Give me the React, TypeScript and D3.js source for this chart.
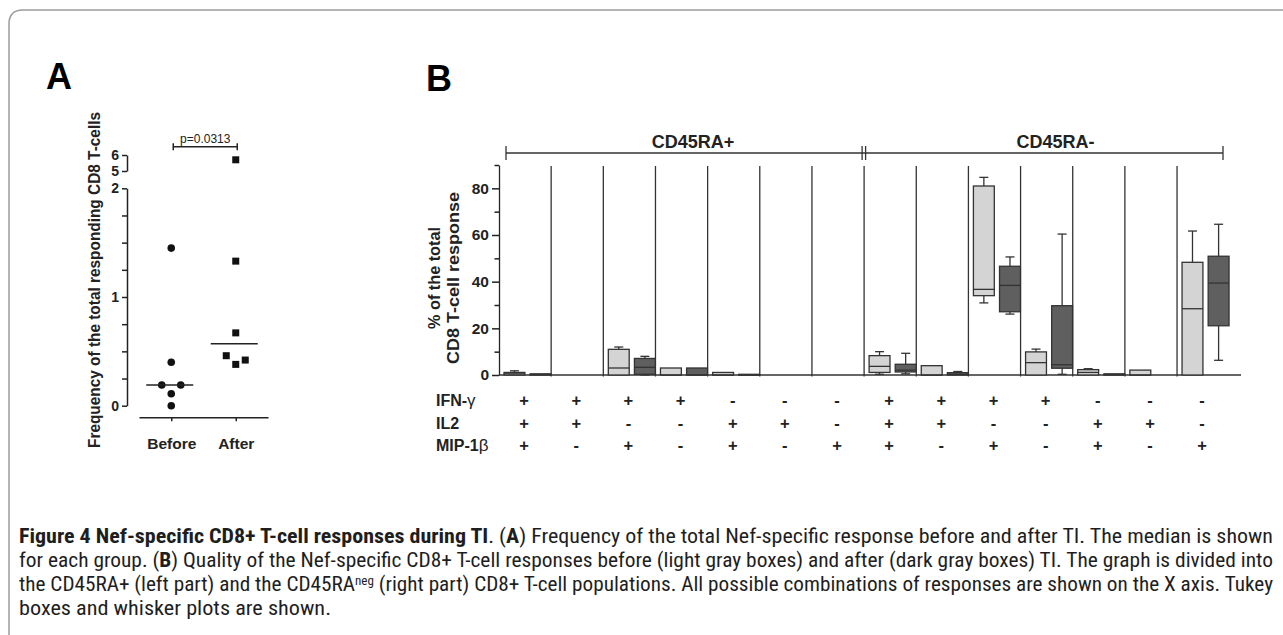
import React, { useRef, useEffect } from 'react';
import * as d3 from 'd3';

const W = 1283;
const H = 635;
const FONT = "'Liberation Sans', Arial, sans-serif";
const CAPTION_FONT = "'Liberation Sans Narrow', 'Roboto Condensed', 'Open Sans', sans-serif";

// ---- panel A: total Nef-specific response ----
const groupsA = ['Before', 'After'];
const beforeValues = [1.45, 0.4, 0.19, 0.19, 0.11, 0];
const beforeSlots = [0, 0, -1, 1, 0, 0];
const afterValues = [5.7, 1.33, 0.67, 0.46, 0.42, 0.38];
const afterSlots = [0, 0, 0, -1, 1, 0];
const mediansA = [0.19, 0.57];
const labelTicksA = [0, 1, 2];
const breakTicksA = [5, 6];
const pLabel = 'p=0.0313';
const titleA = 'Frequency of the total responding CD8 T-cells';

// ---- panel B: response quality ----
const populations = ['CD45RA+', 'CD45RA-'];
const rowLabels = ['IFN-', 'IL2', 'MIP-1'];
const rowGreek = ['γ', '', 'β'];
const ifnRow = ['+', '+', '+', '+', '-', '-', '-', '+', '+', '+', '+', '-', '-', '-'];
const il2Row = ['+', '+', '-', '-', '+', '+', '-', '+', '+', '-', '-', '+', '+', '-'];
const mipRow = ['+', '-', '+', '-', '+', '-', '+', '+', '-', '+', '-', '+', '-', '+'];
// [min, q1, median, q3, max], null = no response
const beforeBoxes = [
  [0, 0, 0.5, 1.1, 1.8], null, [0, 0, 3, 11, 12], [0, 0, 0, 3, 3], [0, 0, 0, 1.1, 1.1], null, null,
  [0.3, 1.1, 3.7, 8.3, 10], [0, 0, 0, 4, 4], [30.9, 34, 36.7, 81, 84.7], [0, 0, 5.3, 9.9, 11.1],
  [0, 0, 1.1, 2.3, 2.7], [0, 0, 0, 2.1, 2.1], [0, 0, 28.4, 48.3, 61.7],
];
const afterBoxes = [
  [0, 0, 0.2, 0.5, 0.5], null, [0, 0.3, 3.3, 7.1, 8], [0, 0, 0, 3, 3], [0, 0, 0, 0.3, 0.3], null, null,
  [0.5, 1.3, 2.1, 4.6, 9.3], [0, 0, 0.3, 1, 1.5], [26.1, 27.1, 38.4, 46.6, 50.6], [0.3, 2.9, 4.4, 29.7, 60.4],
  [0, 0, 0.2, 0.5, 0.5], null, [6.3, 21.1, 39.4, 50.9, 64.6],
];
const labelTicksB = [0, 20, 40, 60, 80];
const titleB = ['% of the total', 'CD8 T-cell response'];

const Figure = () => {
  const svgRef = useRef<SVGSVGElement>(null);

  useEffect(() => {
    const svg = d3.select(svgRef.current);
    svg.selectAll('*').remove();
    svg.attr('width', W).attr('height', H);

    const ink = '#222';

    // frame: top and left rule with rounded corner
    svg.append('path')
      .attr('d', `M9,${H} V24 Q9,10 23,10 H${W}`)
      .attr('fill', 'none')
      .attr('stroke', '#9c9c9c')
      .attr('stroke-width', 1.5);

    // panel letters
    svg.append('text').attr('x', 46).attr('y', 89).attr('font-family', FONT)
      .attr('font-weight', 'bold').attr('font-size', 36).text('A');
    svg.append('text').attr('x', 426).attr('y', 91).attr('font-family', FONT)
      .attr('font-weight', 'bold').attr('font-size', 36).text('B');

    // ================= panel A =================
    const yA = d3.scaleLinear().domain([0, 2]).range([405.7, 188.3]);
    const yAbreak = d3.scaleLinear().domain([5, 6]).range([171, 155]);
    const yOf = (v: number) => (v > 2 ? yAbreak(v) : yA(v));
    const xA = d3.scalePoint<string>().domain(groupsA).range([139, 268]).padding(0.5);
    const slotW = 9.5;

    const styleAxis = (g: any, size: number) => {
      g.selectAll('path, line').attr('stroke', ink).attr('stroke-width', 1.5);
      g.selectAll('text').attr('font-family', FONT).attr('font-weight', 'bold')
        .attr('font-size', size).attr('fill', ink);
    };

    const axA = svg.append('g').attr('transform', 'translate(127,0)')
      .call(d3.axisLeft(yA).tickValues(d3.range(0, 2.001, 0.25)).tickSize(5).tickSizeOuter(0)
        .tickPadding(3)
        .tickFormat((d: any) => (labelTicksA.includes(+d) ? String(d) : '')));
    styleAxis(axA, 14);

    const axA2 = svg.append('g').attr('transform', 'translate(127,0)')
      .call(d3.axisLeft(yAbreak).tickValues(breakTicksA).tickSize(5).tickSizeOuter(0).tickPadding(3)
        .tickFormat((d: any) => String(d)));
    styleAxis(axA2, 14);

    const axAx = svg.append('g').attr('transform', 'translate(0,417.3)')
      .call(d3.axisBottom(xA).tickSize(4).tickSizeOuter(0).tickPadding(17));
    styleAxis(axAx, 15.5);

    // before: circles
    svg.append('g').selectAll('circle').data(beforeValues).join('circle')
      .attr('cx', (d, i) => (xA('Before') as number) + beforeSlots[i] * slotW)
      .attr('cy', d => yOf(d))
      .attr('r', 3.8)
      .attr('fill', '#111');

    // after: squares
    const sq = 7;
    svg.append('g').selectAll('rect').data(afterValues).join('rect')
      .attr('x', (d, i) => (xA('After') as number) + afterSlots[i] * slotW - sq / 2)
      .attr('y', d => yOf(d) - sq / 2)
      .attr('width', sq).attr('height', sq)
      .attr('fill', '#111');

    // medians
    svg.append('g').selectAll('line').data(mediansA).join('line')
      .attr('x1', (d, i) => (xA(groupsA[i]) as number) - 25)
      .attr('x2', (d, i) => (xA(groupsA[i]) as number) + 22)
      .attr('y1', d => yOf(d)).attr('y2', d => yOf(d))
      .attr('stroke', ink).attr('stroke-width', 1.6);

    // significance bracket
    const bx1 = (xA('Before') as number) + 2;
    const bx2 = (xA('After') as number) + 1.5;
    const by = 146.7;
    const sig = svg.append('g').attr('stroke', ink).attr('stroke-width', 1.5);
    sig.append('line').attr('x1', bx1).attr('x2', bx2).attr('y1', by).attr('y2', by);
    sig.append('line').attr('x1', bx1).attr('x2', bx1).attr('y1', by - 3.5).attr('y2', by + 3.5);
    sig.append('line').attr('x1', bx2).attr('x2', bx2).attr('y1', by - 3.5).attr('y2', by + 3.5);
    svg.append('text').attr('x', (bx1 + bx2) / 2).attr('y', 142.5)
      .attr('text-anchor', 'middle').attr('font-family', FONT).attr('font-size', 12)
      .attr('fill', ink).text(pLabel);

    // y title
    svg.append('text')
      .attr('transform', 'translate(100,280) rotate(-90)')
      .attr('text-anchor', 'middle').attr('font-family', FONT).attr('font-weight', 'bold')
      .attr('font-size', 16.5).attr('fill', ink)
      .attr('textLength', 336).attr('lengthAdjust', 'spacingAndGlyphs')
      .text(titleA);

    // ================= panel B =================
    const n = ifnRow.length;
    const xB = d3.scaleBand<number>().domain(d3.range(n)).range([499, 1229.2]);
    const inner = d3.scaleBand<string>().domain(['before', 'after']).range([5, 52]).paddingInner(0.2);
    const yB = d3.scaleLinear().domain([0, 90]).range([375, 165]);
    const bw = xB.bandwidth();

    const axB = svg.append('g').attr('transform', 'translate(499,0)')
      .call(d3.axisLeft(yB).tickValues(d3.range(0, 91, 10)).tickSize(6).tickSizeOuter(0)
        .tickPadding(4)
        .tickFormat((d: any) => (labelTicksB.includes(+d) ? String(d) : '')));
    styleAxis(axB, 15.5);
    axB.selectAll('.tick line').attr('x2', (d: any) => (labelTicksB.includes(+d) ? -7 : -4.5));
    axB.selectAll('path').attr('stroke-width', 1.3);

    const grid = svg.append('g').attr('stroke', '#333').attr('stroke-width', 1.3);
    // baseline
    grid.append('line').attr('x1', 499).attr('x2', 1241).attr('y1', yB(0)).attr('y2', yB(0));
    // category separators
    grid.selectAll('line.sep').data(d3.range(1, n)).join('line').attr('class', 'sep')
      .attr('x1', d => xB(d) as number).attr('x2', d => xB(d) as number)
      .attr('y1', 166).attr('y2', yB(0) + 1.5);

    // boxes
    const drawBoxes = (data: (number[] | null)[], key: string, fill: string) => {
      const g = svg.append('g').attr('stroke', '#333').attr('stroke-width', 1.3);
      data.forEach((s, i) => {
        if (!s) return;
        const [mn, q1, md, q3, mx] = s;
        const x0 = (xB(i) as number) + (inner(key) as number);
        const w = inner.bandwidth();
        const cx = x0 + w / 2;
        if (mx > q3) {
          g.append('line').attr('x1', cx).attr('x2', cx).attr('y1', yB(q3)).attr('y2', yB(mx));
          g.append('line').attr('x1', cx - 4.5).attr('x2', cx + 4.5).attr('y1', yB(mx)).attr('y2', yB(mx));
        }
        if (mn < q1) {
          g.append('line').attr('x1', cx).attr('x2', cx).attr('y1', yB(q1)).attr('y2', yB(mn));
          g.append('line').attr('x1', cx - 4.5).attr('x2', cx + 4.5).attr('y1', yB(mn)).attr('y2', yB(mn));
        }
        g.append('rect').attr('x', x0).attr('y', yB(q3)).attr('width', w)
          .attr('height', Math.max(yB(q1) - yB(q3), 0.8))
          .attr('fill', fill);
        g.append('line').attr('x1', x0).attr('x2', x0 + w).attr('y1', yB(md)).attr('y2', yB(md));
      });
    };
    drawBoxes(beforeBoxes, 'before', '#d4d4d4');
    drawBoxes(afterBoxes, 'after', '#5f5f5f');

    // population brackets
    const left = (xB(0) as number) + 7;
    const mid = xB(7) as number;
    const right = 1223;
    const br = svg.append('g').attr('stroke', '#333').attr('stroke-width', 1.3);
    br.append('line').attr('x1', left).attr('x2', right).attr('y1', 153).attr('y2', 153);
    [left, mid - 2, mid + 1.5, right].forEach(x => {
      br.append('line').attr('x1', x).attr('x2', x).attr('y1', 146).attr('y2', 160);
    });
    svg.append('g').selectAll('text').data(populations).join('text')
      .attr('x', (d, i) => (i === 0 ? (left + mid) / 2 + 8 : (mid + right) / 2 + 12))
      .attr('y', 148)
      .attr('text-anchor', 'middle').attr('font-family', FONT).attr('font-weight', 'bold')
      .attr('font-size', 18).attr('fill', ink)
      .text(d => d);

    // y title (two lines)
    svg.append('g').selectAll('text').data(titleB).join('text')
      .attr('transform', (d, i) => `translate(${i === 0 ? 440 : 459},278) rotate(-90)`)
      .attr('text-anchor', 'middle').attr('font-family', FONT).attr('font-weight', 'bold')
      .attr('font-size', 16.5).attr('fill', ink)
      .attr('textLength', (d, i) => (i === 0 ? 102 : 172)).attr('lengthAdjust', 'spacingAndGlyphs')
      .text(d => d);

    // combination table
    const rows = [ifnRow, il2Row, mipRow];
    const rowY = [406, 428.5, 451];
    rows.forEach((row, r) => {
      const t = svg.append('text').attr('x', 436).attr('y', rowY[r])
        .attr('font-family', FONT).attr('font-weight', 'bold').attr('font-size', 16)
        .attr('fill', ink);
      t.append('tspan').text(rowLabels[r]);
      if (rowGreek[r]) t.append('tspan').attr('font-weight', 'normal').attr('font-size', 17).text(rowGreek[r]);
      svg.append('g').selectAll('text').data(row).join('text')
        .attr('x', (d, i) => (xB(i) as number) + bw / 2 - 1)
        .attr('y', rowY[r])
        .attr('text-anchor', 'middle').attr('font-family', FONT).attr('font-weight', 'bold')
        .attr('font-size', 16.5).attr('fill', ink)
        .text(d => d);
    });

    // ================= caption =================
    const cap = svg.append('g').attr('font-family', CAPTION_FONT).attr('font-size', 19.5).attr('fill', '#1e1e1e');
    const capX = 19;
    const capRight = 1273;
    const l1 = cap.append('text').attr('x', capX).attr('y', 543)
      .attr('textLength', capRight - capX).attr('lengthAdjust', 'spacingAndGlyphs');
    l1.append('tspan').attr('font-weight', 'bold').text('Figure 4 Nef-specific CD8+ T-cell responses during TI');
    l1.append('tspan').text('. (');
    l1.append('tspan').attr('font-weight', 'bold').text('A');
    l1.append('tspan').text(') Frequency of the total Nef-specific response before and after TI. The median is shown');

    const l2 = cap.append('text').attr('x', capX).attr('y', 567)
      .attr('textLength', capRight - capX).attr('lengthAdjust', 'spacingAndGlyphs');
    l2.append('tspan').text('for each group. (');
    l2.append('tspan').attr('font-weight', 'bold').text('B');
    l2.append('tspan').text(') Quality of the Nef-specific CD8+ T-cell responses before (light gray boxes) and after (dark gray boxes) TI. The graph is divided into');

    const l3 = cap.append('text').attr('x', capX).attr('y', 591)
      .attr('textLength', capRight - capX).attr('lengthAdjust', 'spacingAndGlyphs');
    l3.append('tspan').text('the CD45RA+ (left part) and the CD45RA');
    l3.append('tspan').attr('font-size', 12).attr('dy', -6).text('neg');
    l3.append('tspan').attr('dy', 6).text(' (right part) CD8+ T-cell populations. All possible combinations of responses are shown on the X axis. Tukey');

    cap.append('text').attr('x', capX).attr('y', 615)
      .attr('textLength', 312).attr('lengthAdjust', 'spacingAndGlyphs')
      .text('boxes and whisker plots are shown.');
  }, []);

  return <svg ref={svgRef} style={{ position: 'absolute', left: 0, top: 0, background: '#fff' }} />;
};

export default function App() {
  return <Figure />;
}
